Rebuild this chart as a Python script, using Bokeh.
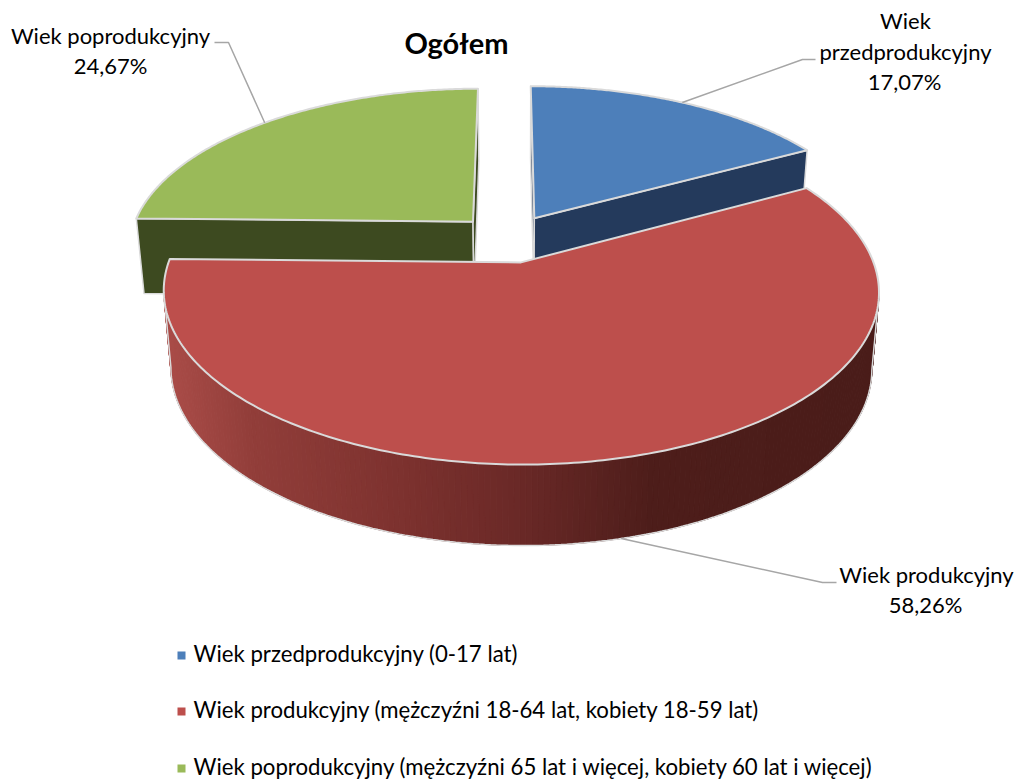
import numpy as np
from bokeh.plotting import figure
from bokeh.embed import file_html
from bokeh.resources import INLINE
from bokeh.core.properties import value

# ---- data
categories = ["Wiek przedprodukcyjny", "Wiek produkcyjny", "Wiek poprodukcyjny"]
shares = [17.07, 58.26, 24.67]
legend_labels = [
    "Wiek przedprodukcyjny (0-17 lat)",
    "Wiek produkcyjny (mężczyźni 18-64 lat, kobiety 18-59 lat)",
    "Wiek poprodukcyjny (mężczyźni 65 lat i więcej, kobiety 60 lat i więcej)",
]
title = "Ogółem"

# ---- style / layout
top_colors = ["#4D7FBA", "#BD4F4C", "#9ABA59"]
wall_colors = ["#243A5C", "#4A1C1A", "#3D4A20"]
edge = "#DADADA"
font = value("Lato")
CX, CY, RX, RY, K, EXPL = 508.0, 238.0, 344.0, 160.0, 0.165, 0.15
VX, SHR = 521.0, 0.98
W, H = 1019, 783

def project(u, v):
    w = 1 + K * v
    return CX + RX * u / w, CY - RY * v / w

def lower(x, y):
    return VX + (x - VX) * SHR, y + 75 + 0.024 * (y - 215)

def slice_pts(a0, a1, n=160):
    mid = (a0 + a1) / 2
    ox, oy = EXPL * np.sin(mid), EXPL * np.cos(mid)
    t = np.linspace(a0, a1, n)
    ax, ay = project(ox, oy)
    ex, ey = project(np.sin(t) + ox, np.cos(t) + oy)
    return (ax, ay), ex, ey

fr = np.array(shares) / sum(shares)
ends = np.cumsum(fr) * 2 * np.pi
starts = ends - fr * 2 * np.pi
mids = (starts + ends) / 2

p = figure(width=W, height=H, x_range=(0, W), y_range=(H, 0),
           output_backend="svg", toolbar_location=None, min_border=0,
           outline_line_color=None, background_fill_color="white", border_fill_color="white")
p.axis.visible = False
p.grid.visible = False

def polygon(xs, ys, fill, line=edge, lw=1.5):
    p.patch(list(xs), list(ys), fill_color=fill, line_color=line, line_width=lw, line_join="round")

# back slices: walls then tops
for i in (0, 2):
    (ax, ay), ex, ey = slice_pts(starts[i], ends[i])
    bax, bay = lower(ax, ay)
    for (qx, qy) in ((ex[0], ey[0]), (ex[-1], ey[-1])):
        bx, by = lower(qx, qy)
        polygon([ax, qx, bx, bax], [ay, qy, by, bay], wall_colors[i], lw=1.5)
    polygon(np.r_[ax, ex], np.r_[ay, ey], top_colors[i], lw=2)

# red slice: shaded outer wall built from strips
grad_x = [165, 250, 400, 520, 650, 880]
grad_c = [(170, 76, 72), (146, 62, 58), (125, 50, 47), (106, 41, 39), (78, 30, 27), (74, 28, 25)]
i = 1
(ax, ay), ex, ey = slice_pts(starts[i], ends[i], 260)
bx, by = lower(ex, ey)
idx = np.arange(int(np.argmax(ex)), int(np.argmin(ex)) + 1)
for j, k in zip(idx[:-1], idx[1:]):
    mx = (ex[j] + ex[k]) / 2
    c = [int(np.interp(mx, grad_x, [g[n] for g in grad_c])) for n in range(3)]
    col = "#%02X%02X%02X" % tuple(c)
    p.patch([ex[j], ex[k], bx[k], bx[j]], [ey[j], ey[k], by[k], by[j]],
            fill_color=col, line_color=col, line_width=1)
p.line(np.r_[ex[idx[0]], bx[idx], ex[idx[-1]]], np.r_[ey[idx[0]], by[idx], ey[idx[-1]]],
       line_color=edge, line_width=1.5)
polygon(np.r_[ax, ex], np.r_[ay, ey], top_colors[i], lw=2)

# leader lines, anchored on the slices
def anchor(i, low=False):
    o = 1 + EXPL
    x, y = project(o * np.sin(mids[i]), o * np.cos(mids[i]))
    return lower(x, y) if low else (x, y)

leader_ends = [((802, 59), (815, 59)), ((822, 582), (836, 582)), ((228, 42), (214, 42))]
for i, (e1, e2) in enumerate(leader_ends):
    x0, y0 = anchor(i, low=(i == 1))
    p.line([x0, e1[0], e2[0]], [y0, e1[1], e2[1]], line_color="#A6A6A6", line_width=1.5)

# data labels
pct = [f"{s:.2f}".replace(".", ",") + "%" for s in shares]
label_rows = [
    (905, 20, "Wiek"), (905, 51, "przedprodukcyjny"), (904, 81, pct[0]),
    (926, 574, categories[1]), (925, 604, pct[1]),
    (110, 35, categories[2]), (110, 65, pct[2]),
]
p.text([r[0] for r in label_rows], [r[1] for r in label_rows], text=[r[2] for r in label_rows],
       text_font=font, text_font_size="22px", text_color="#000000",
       text_align="center", text_baseline="middle")

p.text([456], [42], text=[title], text_font=font, text_font_size="29px", text_font_style="bold",
       text_color="#000000", text_align="center", text_baseline="middle")

# legend
leg_y = [655, 711, 768]
p.scatter([181] * 3, leg_y, marker="square", size=8, fill_color=top_colors, line_color=None)
p.text([193] * 3, [y - 2 for y in leg_y], text=legend_labels, text_font=font, text_font_size="22.2px",
       text_color="#000000", text_align="left", text_baseline="middle")

open("out.html", "w").write(file_html(p, INLINE))
